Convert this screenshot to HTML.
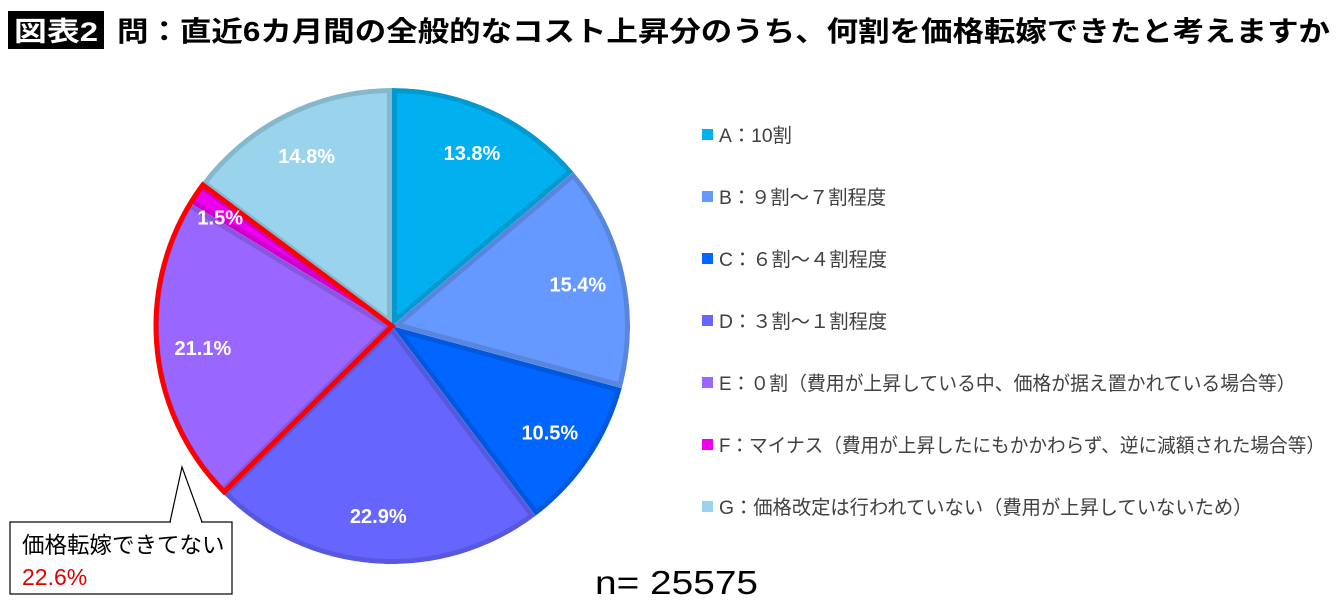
<!DOCTYPE html>
<html><head><meta charset="utf-8"><style>
body{margin:0;background:#fff;width:1340px;height:608px;overflow:hidden;font-family:"Liberation Sans","Noto Sans CJK JP",sans-serif;}
</style></head><body>
<svg width="1340" height="608" xmlns="http://www.w3.org/2000/svg" id="svg">
<rect x="8" y="11" width="96" height="38" fill="#000"/>
<text x="14" y="41" fill="#fff" font-size="27" font-weight="bold" textLength="84" lengthAdjust="spacingAndGlyphs" font-family="Liberation Sans,Noto Sans CJK JP,sans-serif">図表2</text>
<text x="117" y="41" fill="#000" font-size="28" font-weight="bold" textLength="1213" lengthAdjust="spacingAndGlyphs" font-family="Liberation Sans,Noto Sans CJK JP,sans-serif">問：直近6カ月間の全般的なコスト上昇分のうち、何割を価格転嫁できたと考えますか</text>
<g id="pie"></g>
<g id="legend"></g>
<g>
<polygon points="170,522 182,467 202,522" fill="#fff" stroke="#000" stroke-width="1.2"/>
<rect x="10" y="522" width="222" height="72" fill="#fff" stroke="#000" stroke-width="1.2"/>
<line x1="171" y1="522" x2="201" y2="522" stroke="#fff" stroke-width="2"/>
<text x="22" y="553" font-size="22.5" fill="#000" font-family="Liberation Sans,Noto Sans CJK JP,sans-serif">価格転嫁できてない</text>
<text x="22" y="585" font-size="23" fill="#e00000" font-family="Liberation Sans,Noto Sans CJK JP,sans-serif">22.6%</text>
</g>
<text x="595" y="594" font-size="33" fill="#000" textLength="163" lengthAdjust="spacingAndGlyphs" font-family="Liberation Sans,sans-serif">n= 25575</text>
</svg>
<script>
const categories=["A：10割","B：９割～７割程度","C：６割～４割程度","D：３割～１割程度","E：０割（費用が上昇している中、価格が据え置かれている場合等）","F：マイナス（費用が上昇したにもかかわらず、逆に減額された場合等）","G：価格改定は行われていない（費用が上昇していないため）"];
const values=[13.8,15.4,10.5,22.9,21.1,1.5,14.8];
const valueLabels=["13.8%","15.4%","10.5%","22.9%","21.1%","1.5%","14.8%"];
const colors=["#00b0ef","#6699ff","#0066ff","#6666ff","#9966ff","#ee00ee","#99d4ec"];
const NS="http://www.w3.org/2000/svg";
const cx=392,cy=326,R=238;
const pie=document.getElementById('pie');
const total=values.reduce((a,b)=>a+b,0);
function pt(a,r){return [cx+r*Math.sin(a),cy-r*Math.cos(a)];}
function arcPath(a0,a1,r){const p0=pt(a0,r),p1=pt(a1,r);const big=(a1-a0)>Math.PI?1:0;return `M${cx},${cy}L${p0[0]},${p0[1]}A${r},${r} 0 ${big} 1 ${p1[0]},${p1[1]}Z`;}
let acc=0;const angles=[];
const defs=document.createElementNS(NS,'defs');pie.appendChild(defs);
values.forEach((v,i)=>{
 const a0=acc/total*2*Math.PI;acc+=v;const a1=acc/total*2*Math.PI;angles.push([a0,a1]);
 const d=arcPath(a0,a1,R);
 const cp=document.createElementNS(NS,'clipPath');cp.setAttribute('id','cp'+i);
 const cpp=document.createElementNS(NS,'path');cpp.setAttribute('d',d);cp.appendChild(cpp);defs.appendChild(cp);
 const p=document.createElementNS(NS,'path');
 
 
 p.setAttribute('d',d);p.setAttribute('fill',colors[i]);
 p.setAttribute('stroke','rgba(0,0,0,0.13)');p.setAttribute('stroke-width','10');
 p.setAttribute('clip-path','url(#cp'+i+')');
 pie.appendChild(p);
});
const hl=document.createElementNS(NS,'path');


hl.setAttribute('d',arcPath(angles[4][0],angles[5][1],R-2));
hl.setAttribute('fill','none');hl.setAttribute('stroke','#ff0000');hl.setAttribute('stroke-width','5');hl.setAttribute('stroke-linejoin','miter');
pie.appendChild(hl);
values.forEach((v,i)=>{
 const [a0,a1]=angles[i];const m=(a0+a1)/2;let p=pt(m,0.8*R);
 if(v<5){p=[p[0]-14,p[1]-2];}
 const t=document.createElementNS(NS,'text');
 
 
 t.setAttribute('x',p[0]);t.setAttribute('y',p[1]+7);t.setAttribute('text-anchor','middle');
 t.setAttribute('font-size','20');t.setAttribute('font-weight','bold');t.setAttribute('fill','#fff');
 t.setAttribute('font-family','Liberation Sans,sans-serif');
 t.textContent=valueLabels[i];pie.appendChild(t);
});
const lg=document.getElementById('legend');
categories.forEach((c,i)=>{
 const y=135+i*62;
 const r=document.createElementNS(NS,'rect');
 
 
 r.setAttribute('x',702);r.setAttribute('y',y-6);r.setAttribute('width',11);r.setAttribute('height',11);r.setAttribute('fill',colors[i]);
 lg.appendChild(r);
 const t=document.createElementNS(NS,'text');
 
 
 t.setAttribute('x',719);t.setAttribute('y',y+7);t.setAttribute('font-size','19.3');t.setAttribute('fill','#404040');
 t.setAttribute('font-family','Liberation Sans,Noto Sans CJK JP,sans-serif');
 if(c.length>30){t.setAttribute('textLength',Math.min(606,c.length*18.6));t.setAttribute('lengthAdjust','spacingAndGlyphs');}
 t.textContent=c;lg.appendChild(t);
});
</script>
</body></html>
